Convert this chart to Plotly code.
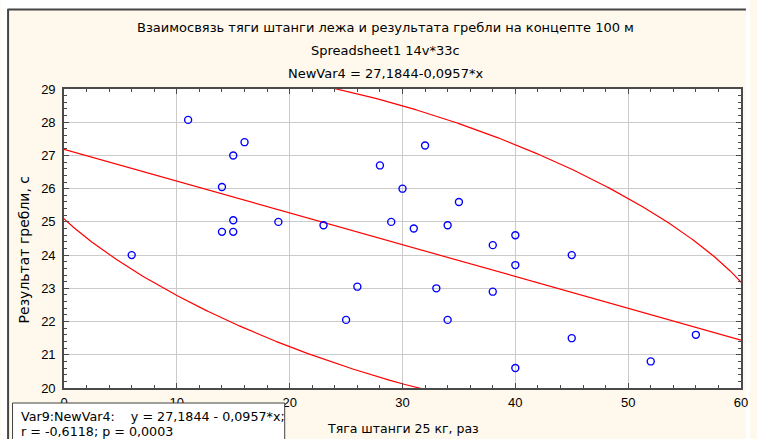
import numpy as np
import plotly.graph_objects as go

# Bench-row repetitions (25 kg bar) vs. 100 m ergometer rowing time
pull_reps = [11, 16, 15, 14, 15, 14, 15, 19, 23, 6,
             28, 32, 30, 35, 29, 31, 34, 38, 40, 45,
             40, 33, 38, 34, 45, 40, 52, 56, 26, 25]
row_time = [28.07, 27.4, 27.0, 26.05, 25.05, 24.7, 24.7, 25.0, 24.9, 24.0,
            26.7, 27.3, 26.0, 25.6, 25.0, 24.8, 24.9, 24.3, 24.6, 24.0,
            23.7, 23.0, 22.9, 22.05, 21.5, 20.6, 20.8, 21.6, 23.05, 22.05]

# Fitted regression (as reported in the legend)
intercept = 27.1844
slope = -0.0957

x_ticks = [0, 10, 20, 30, 40, 50, 60]
y_ticks = [20, 21, 22, 23, 24, 25, 26, 27, 28, 29]

title_lines = [
    "Взаимосвязь тяги штанги лежа и результата гребли на концепте 100 м",
    "Spreadsheet1 14v*33c",
    "NewVar4 = 27,1844-0,0957*x",
]
x_title = "Тяга штанги 25 кг, раз"
y_title = "Результат гребли, с"
legend_lines = [
    "Var9:NewVar4:    y = 27,1844 - 0,0957*x;",
    "r = -0,6118; p = 0,0003",
]

# 95% prediction ellipse: F(0.95; 2, n-2) quantile
F_095 = 3.34

FONT = "Liberation Sans, Arial, sans-serif"
TFONT = "DejaVu Sans, Verdana, sans-serif"
W, H = 757, 439
ML, MR, MT, MB = 64, 9, 89, 51
PW, PH = W - ML - MR, H - MT - MB


def px(x):
    return (x - ML) / PW


def py(y):
    return (H - MB - y) / PH


# regression line
xl = np.array([x_ticks[0], x_ticks[-1]], dtype=float)
yl = intercept + slope * xl

# prediction ellipse from sample mean / covariance
xs = np.array(pull_reps, dtype=float)
ys = np.array(row_time, dtype=float)
n = len(xs)
q = 2 * (n + 1) * (n - 1) / (n * (n - 2)) * F_095
cov = np.cov(xs, ys)
vals, vecs = np.linalg.eigh(cov)
t = np.linspace(0, 2 * np.pi, 2400)
circ = np.vstack([np.cos(t), np.sin(t)])
ell = vecs @ (np.sqrt(vals)[:, None] * circ) * np.sqrt(q)
ex = xs.mean() + ell[0]
ey = ys.mean() + ell[1]

fig = go.Figure()
fig.add_trace(go.Scatter(x=ex, y=ey, mode="lines",
                         line=dict(color="#ff0000", width=1.2),
                         hoverinfo="skip", showlegend=False))
fig.add_trace(go.Scatter(x=xl, y=yl, mode="lines",
                         line=dict(color="#ff0000", width=1.2),
                         showlegend=False))
fig.add_trace(go.Scatter(x=pull_reps, y=row_time, mode="markers",
                         marker=dict(symbol="circle-open", size=7,
                                     color="#0000ff",
                                     line=dict(width=1.4, color="#0000ff")),
                         showlegend=False))

axis_common = dict(
    showgrid=True, gridcolor="#cbcbcb", gridwidth=1,
    showline=True, linecolor="#4a4a4a", linewidth=1.6,
    mirror="allticks", ticks="inside", ticklen=5, tickwidth=1,
    tickcolor="#4a4a4a", zeroline=False,
    tickfont=dict(family=FONT, size=13, color="#000000"),
)
fig.update_xaxes(range=[x_ticks[0], x_ticks[-1]], tickvals=x_ticks,
                 minor=dict(dtick=2, ticks="inside", ticklen=3,
                            tickcolor="#4a4a4a", showgrid=False),
                 ticklabelstandoff=2, **axis_common)
fig.update_yaxes(range=[y_ticks[0], y_ticks[-1]], tickvals=y_ticks,
                 minor=dict(dtick=0.2, ticks="inside", ticklen=3,
                            tickcolor="#4a4a4a", showgrid=False),
                 ticklabelstandoff=4, **axis_common)

cream = "#fff9ed"
frame = "#454545"
shapes = [
    # white surround outside the graph frame
    dict(type="rect", xref="paper", yref="paper", x0=px(0), x1=px(W),
         y0=py(9), y1=py(0), fillcolor="white", line_width=0, layer="below"),
    dict(type="rect", xref="paper", yref="paper", x0=px(0), x1=px(7),
         y0=py(H), y1=py(0), fillcolor="white", line_width=0, layer="below"),
    dict(type="rect", xref="paper", yref="paper", x0=px(753), x1=px(W),
         y0=py(H), y1=py(0), fillcolor="white", line_width=0, layer="below"),
    # frame edges
    dict(type="line", xref="paper", yref="paper", x0=px(7), x1=px(753),
         y0=py(9.5), y1=py(9.5), line=dict(color=frame, width=2)),
    dict(type="line", xref="paper", yref="paper", x0=px(7.5), x1=px(7.5),
         y0=py(9), y1=py(H), line=dict(color=frame, width=2)),
    # regression legend box
    dict(type="rect", xref="paper", yref="paper", x0=px(12), x1=px(287),
         y0=py(H + 5), y1=py(403), fillcolor="white",
         line=dict(color="#404040", width=1), layer="above"),
]

annotations = []
for i, line in enumerate(title_lines):
    annotations.append(dict(text=line, xref="paper", yref="paper",
                            x=px(389), y=py(28 + i * 22.5), xanchor="center",
                            yanchor="middle", showarrow=False,
                            font=dict(family=TFONT, size=13, color="#000000")))
annotations.append(dict(text=x_title, xref="paper", yref="paper",
                        x=px(406), y=py(428), xanchor="center",
                        yanchor="middle", showarrow=False,
                        font=dict(family=TFONT, size=12.5, color="#000000")))
annotations.append(dict(text=y_title, xref="paper", yref="paper",
                        x=px(24), y=py(250), xanchor="center",
                        yanchor="middle", textangle=-90, showarrow=False,
                        font=dict(family=TFONT, size=14, color="#000000")))
for i, line in enumerate(legend_lines):
    annotations.append(dict(text=line, xref="paper", yref="paper",
                            x=px(19), y=py(416 + i * 16), xanchor="left",
                            yanchor="middle", showarrow=False,
                            font=dict(family=TFONT, size=12.7, color="#000000")))

fig.update_layout(
    width=W, height=H,
    margin=dict(l=ML, r=MR, t=MT, b=MB, pad=0),
    paper_bgcolor=cream, plot_bgcolor="white",
    shapes=shapes, annotations=annotations,
    showlegend=False,
)

fig.write_html("out.html", config={"displayModeBar": False})
